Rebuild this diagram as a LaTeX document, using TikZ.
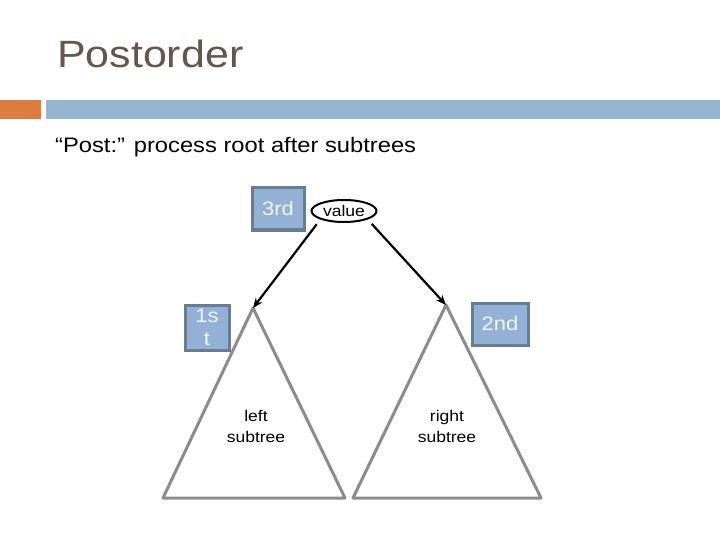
\documentclass[tikz,border=0pt]{standalone}
\usepackage{fontspec}
\setmainfont{Liberation Sans}
\usetikzlibrary{shapes.geometric,arrows.meta}
\definecolor{titlegray}{RGB}{100,86,78}
\definecolor{barorange}{RGB}{224,123,63}
\definecolor{barblue}{RGB}{148,182,210}
\definecolor{boxfill}{RGB}{146,177,212}
\definecolor{boxline}{RGB}{104,124,148}
\definecolor{boxtext}{RGB}{242,246,250}
\definecolor{treegray}{RGB}{140,140,140}
\newcommand{\wide}[1]{\scalebox{1.13}[1]{#1}}
\tikzset{node distance=2.0cm, auto}

\begin{document}
\begin{tikzpicture}[
  x=1pt, y=-1pt,
  order/.style={draw=boxline, line width=3pt, fill=boxfill, text=boxtext,
    inner sep=0pt, align=center, font=\fontsize{19.5}{23.3}\selectfont},
  tree/.style={draw=treegray, line width=3pt, line join=round},
  link/.style={draw=black, line width=2.2pt, shorten <=6pt,
    -{Stealth[length=10pt,width=8pt]}}
]
\useasboundingbox (0,0) rectangle (720,540);
% heading and rule
\node[anchor=base west, inner sep=0pt, text=titlegray,
  font=\fontsize{38}{45}\selectfont] (title) at (57,68) {\wide{Postorder}};
\fill[barorange] (0,100) rectangle (41,119);
\fill[barblue] (46,100) rectangle (720,119);
\node[anchor=base west, inner sep=0pt, font=\fontsize{21}{25}\selectfont]
  (sub) at (55,153) {\wide{``Post:'' process root after subtrees}};

% root and the two subtrees
\node[ellipse, draw, line width=2pt, minimum width=65pt, minimum height=22pt,
  inner sep=0pt, font=\fontsize{15.5}{18}\selectfont] (val) at (344,211) {\wide{value}};
\coordinate (lapex) at (253,308);
\coordinate (rapex) at (446,305);
\draw[tree] (lapex) -- (163,498) -- (345,498) -- cycle;
\draw[tree] (rapex) -- (353,498) -- (541,498) -- cycle;
\node[inner sep=0pt, align=center, font=\fontsize{15.5}{21}\selectfont]
  (ltext) at (256,426.6) {\wide{left}\\\wide{subtree}};
\node[inner sep=0pt, align=center, font=\fontsize{15.5}{21}\selectfont]
  (rtext) at (447,426.6) {\wide{right}\\\wide{subtree}};
\draw[link] (val.south west) -- (lapex);
\draw[link] (val.south east) -- (rapex);

% visiting order
\node[order, minimum width=52pt, minimum height=42pt] (third) at (278,209) {\wide{3rd}};
\node[order, minimum width=44pt, minimum height=45pt] (first) at (207,327.5) {\wide{1s}\\\wide{t}};
\node[order, minimum width=56pt, minimum height=42pt] (second) at (500,324) {\wide{2nd}};
\end{tikzpicture}
\end{document}
